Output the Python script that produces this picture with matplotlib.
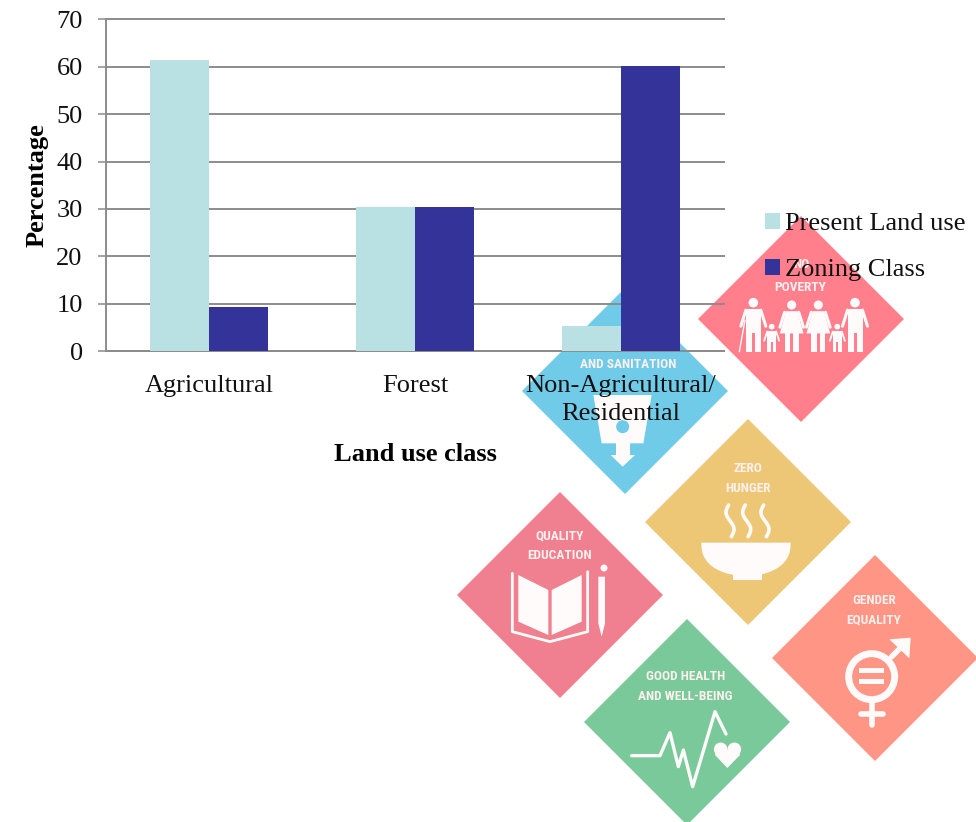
import logging
import numpy as np
import matplotlib
matplotlib.use('Agg')
import matplotlib.pyplot as plt
from matplotlib.patches import Polygon, Circle, Rectangle

logging.getLogger('matplotlib.font_manager').setLevel(logging.ERROR)

categories = ['Agricultural', 'Forest', 'Non-Agricultural/\nResidential']
present_land_use = [61.4, 30.4, 5.2]
zoning_class = [9.2, 30.4, 60.2]
y_ticks = [0, 10, 20, 30, 40, 50, 60, 70]

W, H = 976, 822
SERIF = ['Liberation Serif', 'DejaVu Serif']
NARROW = ['Roboto Condensed', 'Liberation Sans Narrow', 'Liberation Sans', 'DejaVu Sans']
WHITE = '#fffbfb'

fig = plt.figure(figsize=(W / 100, H / 100), dpi=100, facecolor='white')

# background layer, in image pixels
bg = fig.add_axes([0, 0, 1, 1], zorder=0)
bg.set_xlim(0, W)
bg.set_ylim(H, 0)
bg.axis('off')


def diamond(cx, cy, color, r=103):
    bg.add_patch(Polygon([(cx - r, cy), (cx, cy - r), (cx + r, cy), (cx, cy + r)], fc=color, ec='none'))


def label(x, y, s, size=9.6):
    bg.text(x, y, s, color='#fdf0ee', family=NARROW, weight='bold', fontsize=size, ha='center', va='center')


def fill(pts, color=WHITE):
    bg.add_patch(Polygon(pts, fc=color, ec='none'))


def z1(x, y):
    return 500 + x / 3, 200 + y / 3


def z2(x, y):
    return 450 + x / 3, 480 + y / 3


def line(pts, lw=2.4):
    xs, ys = zip(*pts)
    bg.plot(xs, ys, color=WHITE, lw=lw, solid_capstyle='round', solid_joinstyle='round')


def person(x, top, bottom, scale=1.0, skirt=False):
    hx, hy = z1(x, top)
    bg.add_patch(Circle((hx, hy), 4.8 * scale, fc=WHITE, ec='none'))
    w = 10 * scale
    sh = hy + 6.5 * scale
    _, foot = z1(x, bottom)
    mid = sh + (foot - sh) * 0.55
    if skirt:
        fill([(hx - w * 0.6, sh), (hx + w * 0.6, sh), (hx + w * 1.25, mid), (hx - w * 1.25, mid)])
    else:
        fill([(hx - w * 0.75, sh), (hx + w * 0.75, sh), (hx + w * 0.75, mid), (hx - w * 0.75, mid)])
    for dx in (-0.45, 0.45):
        bg.add_patch(Rectangle((hx + dx * w - 3 * scale, mid - 1), 6 * scale, foot - mid + 1, fc=WHITE, ec='none'))
    for side in (-1, 1):
        line([(hx + side * w * 0.75, sh + 1), (hx + side * w * 1.25, sh + 17 * scale)], lw=2.2 * scale)


# clean water
diamond(625, 391, '#70cbe8')
label(*z1(385, 494), 'AND SANITATION')
fill([z1(*p) for p in [(280, 585), (455, 585), (430, 730), (390, 730), (390, 765), (405, 765), (368, 800),
                       (332, 765), (348, 765), (348, 730), (305, 730)]])
bg.add_patch(Circle(z1(368, 680), 6.5, fc='#70cbe8', ec='none'))

# no poverty
diamond(801, 319, '#ff7f8c')
label(*z1(905, 192), 'NO')
label(*z1(902, 261), 'POVERTY')
person(760, 308, 455)
person(875, 315, 455, 0.95, skirt=True)
person(955, 315, 455, 0.95, skirt=True)
person(1065, 308, 455)
person(815, 380, 455, 0.6)
person(1012, 380, 455, 0.6)
line([z1(735, 360), z1(718, 455)], lw=1.0)

# zero hunger
diamond(748, 522, '#edc776')
label(748, 468, 'ZERO')
label(748, 488, 'HUNGER')
t = np.linspace(0, np.pi, 40)
fill([z2(888 + 134 * np.cos(a), 188 + 100 * np.sin(a) ** 0.8) for a in t])
fill([z2(*p) for p in [(850, 280), (935, 280), (935, 300), (850, 300)]])
s = np.linspace(0, 1, 25)
for x0 in (840, 890, 945):
    line([z2(x0 - 10 * np.sin(2 * np.pi * v) + 8 * (v - 0.5), 75 + 95 * v) for v in s], lw=2.6)

# quality education
diamond(560, 595, '#f0808f')
label(*z2(330, 167), 'QUALITY')
label(*z2(330, 226), 'EDUCATION')
fill([z2(*p) for p in [(205, 285), (295, 330), (295, 465), (205, 425)]])
fill([z2(*p) for p in [(305, 330), (395, 285), (395, 425), (305, 465)]])
line([z2(*p) for p in [(187, 280), (187, 455), (300, 485), (413, 455), (413, 275)]], lw=2.0)
fill([z2(*p) for p in [(445, 290), (465, 290), (465, 430), (455, 470), (445, 430)]])
bg.add_patch(Circle(z2(462, 264), 3.5, fc=WHITE, ec='none'))

# gender equality
diamond(875, 658, '#ff9585')
label(*z2(1272, 360), 'GENDER')
label(*z2(1272, 419), 'EQUALITY')
bg.add_patch(Circle(z2(1265, 590), 23, fc='none', ec=WHITE, lw=5))
fill([z2(*p) for p in [(1228, 565), (1303, 565), (1303, 580), (1228, 580)]])
fill([z2(*p) for p in [(1228, 597), (1303, 597), (1303, 612), (1228, 612)]])
line([z2(1265, 665), z2(1265, 735)], lw=4)
line([z2(1232, 703), z2(1300, 703)], lw=4)
line([z2(1325, 530), z2(1365, 490)], lw=4)
fill([z2(*p) for p in [(1318, 478), (1382, 473), (1378, 535)]])

# good health
diamond(687, 722, '#79c99a')
label(*z2(707, 588), 'GOOD HEALTH')
label(*z2(707, 648), 'AND WELL-BEING')
line([z2(*p) for p in [(545, 827), (630, 827), (660, 758), (685, 860), (700, 810), (728, 920), (795, 695),
                       (828, 762)]])
bg.add_patch(Circle(z2(812, 808), 6.8, fc=WHITE, ec='none'))
bg.add_patch(Circle(z2(853, 808), 6.8, fc=WHITE, ec='none'))
fill([z2(*p) for p in [(795, 825), (870, 825), (832, 864)]])
fill([z2(*p) for p in [(800, 810), (865, 810), (870, 825), (795, 825)]])

# chart
ax = fig.add_axes([106 / W, 1 - 351 / H, 618 / W, 331.5 / H], zorder=1)
ax.patch.set_alpha(0)
x = np.arange(len(categories))
bar_w = 0.2865
b1 = ax.bar(x - bar_w / 2, present_land_use, bar_w, color='#b9e0e3', label='Present Land use', zorder=3)
b2 = ax.bar(x + bar_w / 2, zoning_class, bar_w, color='#343399', label='Zoning Class', zorder=3)
ax.set_xlim(-0.5, 2.5)
ax.set_ylim(0, 70)
ax.set_yticks(y_ticks)
ax.set_xticks(x)
ax.set_xticklabels(categories, family=SERIF, fontsize=19, linespacing=1.38)
ax.set_yticklabels([str(v) for v in y_ticks], family=SERIF, fontsize=19)
ax.grid(True, axis='y', color='#8c8c8c', lw=1.4, zorder=1)
for gl in ax.get_ygridlines():
    gl.set_clip_on(False)
ax.set_axisbelow(True)
ax.tick_params(axis='y', length=5.8, width=1.1, color='#8c8c8c', pad=11, labelcolor='#111111')
ax.tick_params(axis='x', length=0, pad=17, labelcolor='#111111')
for side in ('top', 'right'):
    ax.spines[side].set_visible(False)
for side in ('left', 'bottom'):
    ax.spines[side].set_color('#8c8c8c')
    ax.spines[side].set_linewidth(1.4)
ax.set_xlabel('Land use class', family=SERIF, fontsize=19, weight='bold')
ax.xaxis.set_label_coords(0.5, -92 / 331.5)
ax.set_ylabel('Percentage', family=SERIF, fontsize=19, weight='bold')
ax.yaxis.set_label_coords(-57 / 618, 0.5)
ax.legend(handles=[b1, b2], loc='upper left', bbox_to_anchor=(765 / W, 1 - 213 / H),
          bbox_transform=fig.transFigure, frameon=False, borderpad=0, borderaxespad=0,
          prop={'family': SERIF, 'size': 19}, handlelength=0.55, handleheight=0.55,
          handletextpad=0.22, labelspacing=0.90, labelcolor='#111111')

fig.savefig('out.png', dpi=100)
